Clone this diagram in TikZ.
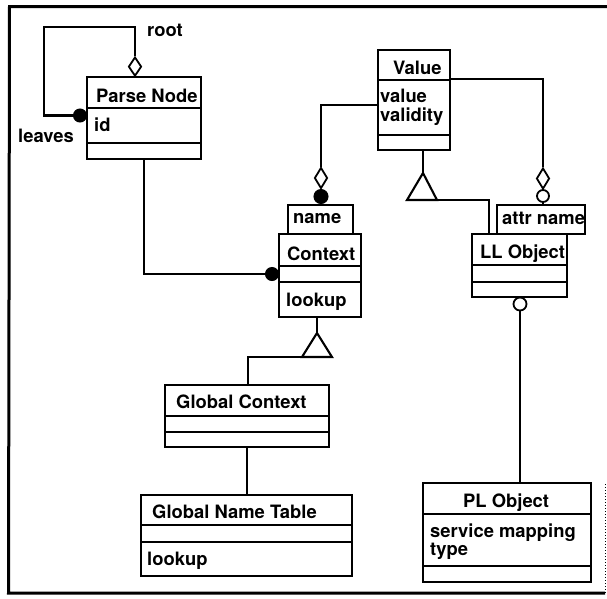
\documentclass[tikz,border=0pt]{standalone}
\usepackage{fontspec}
\setmainfont{TeX Gyre Heros}
\usetikzlibrary{shapes.geometric}
\begin{document}
\begin{tikzpicture}[x=1pt,y=-1pt,
  ln/.style={line width=2.1pt},
  frame/.style={line width=3pt},
  cls/.style={draw, line width=2.1pt, inner sep=0pt, outer sep=0pt, anchor=north west},
  lbl/.style={inner sep=0pt, anchor=base west, font=\bfseries\fontsize{18.4}{20}\selectfont},
  agg/.style={diamond, draw, fill=white, line width=1.8pt, inner sep=0pt, minimum width=13pt, minimum height=21pt},
  dotb/.style={circle, draw, fill=black, line width=1pt, inner sep=0pt, minimum size=13pt},
  doth/.style={circle, draw, fill=white, line width=1.8pt, inner sep=0pt, minimum size=12pt},
  gen/.style={line width=2.1pt, fill=white, line join=miter}
]
\useasboundingbox (0,0) rectangle (607,598);
% frame
\draw[frame] (607,6.5) -- (9.5,6.5) -- (8.5,593) -- (605,593);
\draw[line width=1pt, dotted] (605,484) -- (605,593);

% classes
\node[cls, minimum width=114pt, minimum height=82pt] (pn) at (87,77) {};
\draw[ln] (87,108) -- (201,108) (87,143) -- (201,143);
\node[lbl] (pnt) at (96,102) {Parse Node};
\node[lbl] (pna) at (94,131.5) {id};

\node[cls, minimum width=72pt, minimum height=100pt] (val) at (378,50) {};
\draw[ln] (378,80) -- (450,80) (378,135) -- (450,135);
\node[lbl] (valt) at (393,74) {Value};
\node[lbl] (vala) at (380,102.5) {value};
\node[lbl] (valb) at (380,121) {validity};

\node[cls, minimum width=65pt, minimum height=29pt] (nm) at (288,205) {};
\node[lbl] (nmt) at (293,223) {name};

\node[cls, minimum width=82pt, minimum height=83pt] (ctx) at (279,234) {};
\draw[ln] (279,266) -- (361,266) (279,282) -- (361,282);
\node[lbl] (ctxt) at (287,260) {Context};
\node[lbl] (ctxo) at (286,306) {lookup};

\node[cls, minimum width=88pt, minimum height=29pt] (an) at (497,205) {};
\node[lbl] (ant) at (502,224) {attr name};

\node[cls, minimum width=95pt, minimum height=63pt] (ll) at (472,234) {};
\draw[ln] (472,265) -- (567,265) (472,282) -- (567,282);
\node[lbl] (llt) at (480,258) {LL Object};

\node[cls, minimum width=164pt, minimum height=62pt] (gc) at (165,385) {};
\draw[ln] (165,416) -- (329,416) (165,432) -- (329,432);
\node[lbl] (gct) at (176,408) {Global Context};

\node[cls, minimum width=211pt, minimum height=81pt] (gnt) at (141,495) {};
\draw[ln] (141,525) -- (352,525) (141,542) -- (352,542);
\node[lbl] (gntt) at (152,518) {Global Name Table};
\node[lbl] (gnto) at (147,565) {lookup};

\node[cls, minimum width=168pt, minimum height=99pt] (pl) at (423,483) {};
\draw[ln] (423,514) -- (591,514) (423,566) -- (591,566);
\node[lbl] (plt) at (463,507) {PL Object};
\node[lbl] (pla) at (430,537) {service mapping};
\node[lbl] (plb) at (430,555.5) {type};

% labels
\node[lbl] (root) at (147,36) {root};
\node[lbl] (leaves) at (18,142.5) {leaves};

% self association root / leaves
\node[agg, minimum height=19pt, anchor=south] (d1) at (pn.north -| 135,0) {};
\node[dotb] (c1) at (80,115.5) {};
\draw[ln] (d1.north) |- (44,27) -- (44,115.5) -- (c1.west);

% Parse Node -- Context
\node[dotb] (c2) at (272,274) {};
\draw[ln] (pn.south -| 144,0) |- (c2.west);

% Value -- name / Context
\node[agg] (d2) at (321,178) {};
\node[dotb, minimum size=14pt] (c3) at (321,196.5) {};
\draw[ln] (val.west |- 0,105) -| (d2.north);
\draw[ln] (c3.south) -- (nm.north -| c3);

% Value -- attr name / LL Object
\node[agg] (d3) at (543,178.5) {};
\node[doth] (c4) at (543,196) {};
\draw[ln] (val.east |- 0,79) -| (d3.north);
\draw[ln] (d3.south) -- (c4.north);
\draw[ln] (c4.south) -- (an.north -| c4);

% generalization Value <- LL Object
\coordinate (t1a) at (423,173);
\coordinate (t1l) at (407,200);
\coordinate (t1r) at (437,200);
\draw[ln] (val.south -| t1a) -- (t1a);
\draw[gen] (t1a) -- (t1r) -- (t1l) -- cycle;
\draw[ln] (t1r) -| (ll.north -| 489,0);

% generalization Context <- Global Context
\coordinate (t2a) at (317,333);
\coordinate (t2l) at (302,357);
\coordinate (t2r) at (332,357);
\draw[ln] (ctx.south -| t2a) -- (t2a);
\draw[gen] (t2a) -- (t2r) -- (t2l) -- cycle;
\draw[ln] (t2l) -| (gc.north -| 248,0);

% Global Context -- Global Name Table
\draw[ln] (gc.south -| 247,0) -- (gnt.north -| 247,0);

% LL Object -- PL Object
\node[doth, minimum size=13pt] (c5) at (520,304) {};
\draw[ln] (c5.south) -- (pl.north -| c5);
\end{tikzpicture}
\end{document}
